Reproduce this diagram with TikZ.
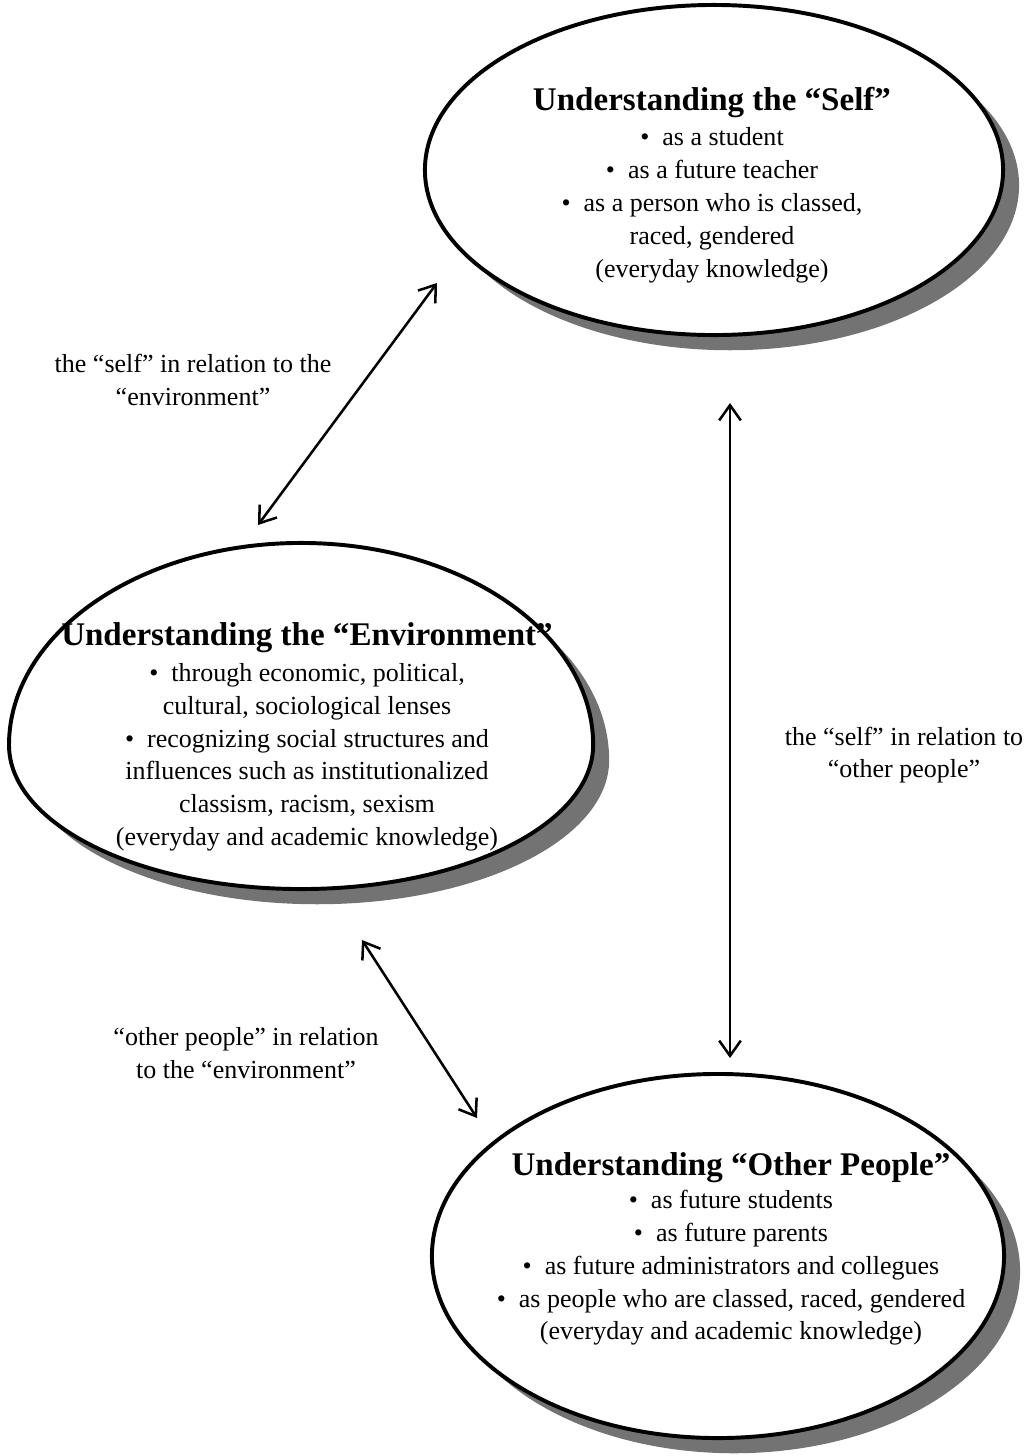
\documentclass[tikz,border=0pt]{standalone}
\usepackage{fontspec}
\setmainfont{Liberation Serif}
\usetikzlibrary{positioning}
\usetikzlibrary{arrows.meta,shapes.geometric,shadows}

\tikzset{
  rim/.style={draw, line width=2.8pt, fill=white,
    drop shadow={shadow xshift=0.4cm, shadow yshift=-0.38cm, opacity=1, fill=black!55}},
  bubble/.style={ellipse, rim, inner sep=0pt},
  inside/.style={align=center, font=\fontsize{18.5}{23.4}\selectfont},
  note/.style={align=center, font=\fontsize{18.5}{23}\selectfont},
  link/.style={{Straight Barb[length=3.8mm,width=5.4mm]}-{Straight Barb[length=3.8mm,width=5.4mm]}, line width=1.8pt}
}
\newcommand{\heading}[1]{{\fontsize{23.5}{28}\selectfont\bfseries #1}}

\begin{document}
\begin{tikzpicture}[x=0.025cm,y=-0.025cm]
 \useasboundingbox (0,0) rectangle (1031,1456);
 % the three bubbles (the middle one is egg shaped)
 \node[bubble, minimum width=14.45cm, minimum height=8.25cm] (self) at (714,170) {};
 \path[rim] (9,745) arc[start angle=180, end angle=0, x radius=7.3cm, y radius=5.05cm]
   arc[start angle=360, end angle=180, x radius=7.3cm, y radius=3.6cm] -- cycle;
 \node[bubble, minimum width=14.3cm, minimum height=9.1cm] (other) at (718,1256) {};
 % texts inside
 \node[inside] (self-txt) at (712,185) {\heading{Understanding the “Self”}\\[2pt]
   \textbullet\ \ as a student\\
   \textbullet\ \ as a future teacher\\
   \textbullet\ \ as a person who is classed,\\
   raced, gendered\\
   (everyday knowledge)};
 \node[inside] (env-txt) at (307,737) {\heading{Understanding the “Environment”}\\[2pt]
   \textbullet\ \ through economic, political,\\
   cultural, sociological lenses\\
   \textbullet\ \ recognizing social structures and\\
   influences such as institutionalized\\
   classism, racism, sexism\\
   (everyday and academic knowledge)};
 \node[inside] (other-txt) at (731,1249) {\heading{Understanding “Other People”}\\[0pt]
   \textbullet\ \ as future students\\
   \textbullet\ \ as future parents\\
   \textbullet\ \ as future administrators and collegues\\
   \textbullet\ \ as people who are classed, raced, gendered\\
   (everyday and academic knowledge)};
 % arrow ends
 \coordinate (se-a) at (437,283);
 \coordinate (se-b) at (258,525);
 \coordinate (so-a) at (730,403);
 \coordinate (so-b) at (730,1058);
 \coordinate (eo-a) at (362,940);
 \coordinate (eo-b) at (477,1118);
 \draw[link] (se-a) -- (se-b);
 \draw[link] (so-a) -- (so-b);
 \draw[link] (eo-a) -- (eo-b);
 % labels
 \node[note] (se-lbl) at (193,380) {the “self” in relation to the\\“environment”};
 \node[note] (so-lbl) at (904,755) {the “self” in relation to\\“other people”};
 \node[note] (eo-lbl) at (246,1053) {“other people” in relation\\to the “environment”};
\end{tikzpicture}
\end{document}
